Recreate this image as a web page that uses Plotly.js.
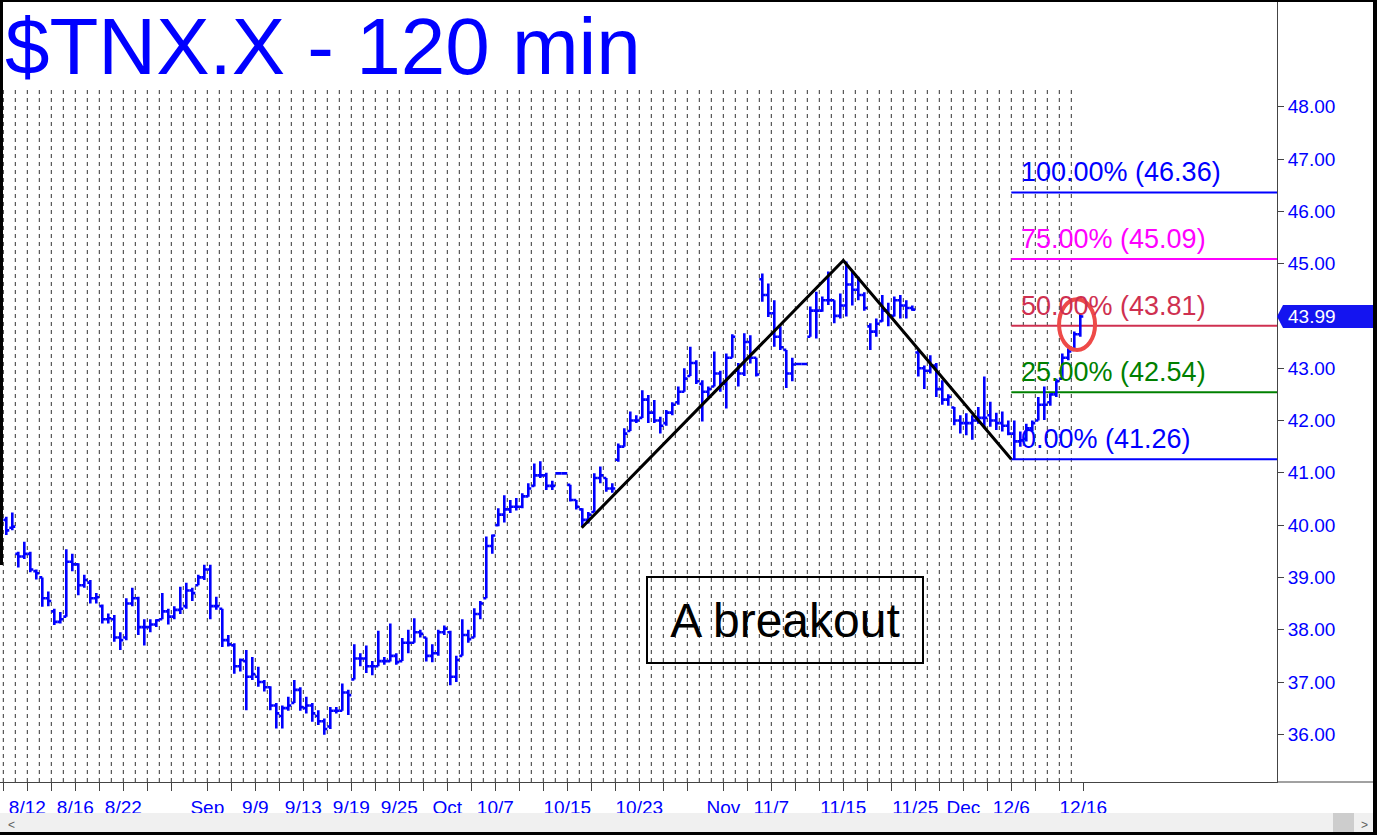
<!DOCTYPE html>
<html><head><meta charset="utf-8">
<script src="https://cdn.plot.ly/plotly-3.0.1.min.js"></script>
<style>html,body{margin:0;padding:0;background:#fff;overflow:hidden}#chart{width:1377px;height:835px}</style>
</head><body><div id="chart"></div>
<script>
// ---- data: 120-min bars, two per trading day, day 0 = 8/8 ----
const opens = [
40.10,39.95, 39.45,39.40, 39.45,39.12, 39.00,38.60, 38.35,38.15,
38.25,39.30, 39.25,38.85, 38.90,38.60, 38.45,38.20, 38.20,37.85,
37.85,38.50, 38.60,38.05, 38.05,38.10, 38.20,38.35, 38.25,38.38,
38.45,38.75, 38.85,39.00, 39.15,38.45, 38.40,37.80, 37.70,37.30,
37.40,37.10, 37.10,37.00, 36.90,36.55, 36.35,36.50, 36.60,36.85,
36.50,36.55, 36.35,36.25, 36.15,36.45, 36.45,36.80, 37.05,37.45,
37.45,37.30, 37.30,37.40, 37.40,37.50, 37.40,37.75, 37.75,37.95,
37.85,37.50, 37.55,37.95, 37.95,37.10, 37.50,37.90, 37.85,38.30,
38.60,39.60, 40.00,40.20, 40.30,40.35, 40.35,40.55, 40.75,40.95,
40.95,40.75, 40.99,40.99, 40.77,40.48, 40.30,40.10, 40.25,40.90,
40.90,40.70, 41.25,41.50, 41.80,42.00, 42.05,42.40, 42.15,42.00,
41.95,42.15, 42.35,42.55, 42.85,43.10, 42.70,42.55, 42.65,42.90,
42.70,43.20, 42.95,42.90, 43.50,43.20, 44.70,44.40, 44.05,43.60,
43.35,42.90, 43.08,43.08, 43.60,44.10, 44.10,44.30, 44.30,44.00,
44.20,44.60, 44.50,44.40, 43.80,43.70, 43.90,44.10, 44.00,44.30,
44.20,44.15, 43.30,43.00, 42.95,43.05, 42.60,42.40, 42.25,42.00,
41.95,41.95, 42.00,42.05, 42.10,42.00, 41.95,41.90, 41.75,41.60,
41.65,41.85, 42.00,42.30, 42.35,42.50, 42.80,43.20, 43.35,43.65];
const highs = [
40.16,40.24, 39.49,39.68, 39.49,39.15, 39.00,38.73, 38.40,38.34,
39.54,39.45, 39.27,39.05, 38.95,38.70, 38.48,38.31, 38.28,37.95,
38.60,38.80, 38.63,38.20, 38.20,38.20, 38.70,38.40, 38.45,38.82,
38.90,38.80, 39.05,39.24, 39.24,38.63, 38.40,37.90, 37.74,37.45,
37.61,37.48, 37.29,37.04, 36.92,36.60, 36.55,36.72, 37.04,36.90,
36.72,36.60, 36.46,36.30, 36.52,36.52, 36.97,36.85, 37.72,37.55,
37.70,37.40, 37.98,37.48, 38.12,37.55, 37.84,38.00, 38.22,38.00,
37.85,37.72, 38.00,38.08, 37.98,37.50, 38.20,38.00, 38.41,38.55,
39.78,39.82, 40.32,40.57, 40.48,40.52, 40.61,40.80, 41.18,41.22,
41.00,40.85, 41.00,41.00, 40.77,40.48, 40.32,40.25, 40.99,41.12,
40.90,40.80, 41.56,41.85, 42.17,42.10, 42.58,42.49, 42.39,42.07,
42.20,42.35, 42.65,43.00, 43.41,43.15, 42.77,42.65, 43.32,42.95,
43.28,43.65, 43.10,43.67, 43.63,43.20, 44.81,44.62, 44.30,43.80,
43.35,43.20, 43.09,43.09, 44.18,44.46, 44.37,44.85, 44.30,44.43,
45.04,44.85, 44.75,44.45, 43.86,43.95, 44.40,44.25, 44.37,44.40,
44.30,44.20, 43.35,43.05, 43.25,43.10, 42.77,42.50, 42.26,42.10,
42.14,42.10, 42.26,42.84, 42.36,42.15, 42.17,42.00, 42.00,41.79,
41.94,42.00, 42.45,42.65, 42.52,42.80, 43.28,43.38, 43.70,44.05];
const lows = [
39.81,39.90, 39.19,39.35, 39.10,38.96, 38.44,38.45, 38.09,38.12,
38.25,39.12, 38.66,38.80, 38.50,38.50, 38.12,38.12, 37.77,37.61,
37.80,38.45, 37.90,37.70, 37.95,38.05, 38.20,38.10, 38.20,38.30,
38.40,38.55, 38.85,38.95, 38.20,38.38, 37.67,37.68, 37.16,37.20,
36.46,37.04, 36.91,36.82, 36.46,36.11, 36.11,36.45, 36.60,36.45,
36.40,36.24, 36.18,35.99, 36.10,36.40, 36.45,36.37, 37.05,37.30,
37.17,37.13, 37.30,37.33, 37.39,37.33, 37.40,37.55, 37.75,37.85,
37.39,37.38, 37.50,37.90, 36.94,37.00, 37.50,37.75, 37.85,38.20,
38.60,39.45, 39.98,40.05, 40.23,40.28, 40.32,40.54, 40.74,40.90,
40.67,40.67, 40.98,40.98, 40.45,40.30, 39.97,40.03, 40.25,40.80,
40.64,40.62, 41.21,41.50, 41.80,41.95, 42.05,41.95, 41.95,41.75,
41.90,42.10, 42.30,42.55, 42.85,42.70, 41.98,42.45, 42.65,42.55,
42.23,43.20, 42.65,42.85, 43.09,42.84, 44.27,43.98, 43.41,43.35,
42.62,42.75, 43.07,43.07, 43.60,43.57, 44.08,44.21, 43.86,43.95,
43.99,44.20, 44.30,44.10, 43.35,43.60, 43.89,43.80, 43.99,43.95,
43.95,44.10, 42.84,42.60, 42.90,42.45, 42.30,42.28, 41.91,41.75,
41.72,41.63, 41.94,41.85, 41.88,41.82, 41.79,41.72, 41.26,41.50,
41.60,41.80, 42.00,42.01, 42.28,42.45, 42.80,43.15, 43.35,43.60];
const closes = [
39.90,39.97, 39.40,39.45, 39.15,39.08, 38.60,38.55, 38.15,38.20,
39.30,39.25, 38.85,38.95, 38.60,38.62, 38.20,38.22, 37.85,37.80,
38.50,38.60, 38.05,38.05, 38.10,38.18, 38.35,38.25, 38.38,38.40,
38.75,38.70, 39.00,39.15, 38.45,38.45, 37.80,37.72, 37.30,37.42,
37.10,37.15, 37.00,36.90, 36.55,36.40, 36.50,36.55, 36.85,36.52,
36.55,36.40, 36.25,36.10, 36.45,36.45, 36.80,36.75, 37.45,37.45,
37.30,37.30, 37.40,37.40, 37.50,37.38, 37.75,37.75, 37.95,37.92,
37.50,37.55, 37.95,38.02, 37.10,37.42, 37.90,37.82, 38.30,38.50,
39.60,39.80, 40.20,40.30, 40.35,40.35, 40.55,40.70, 40.95,40.95,
40.75,40.75, 40.99,40.99, 40.48,40.35, 40.10,40.20, 40.90,40.95,
40.70,40.70, 41.50,41.75, 42.00,42.00, 42.40,42.15, 42.00,41.90,
42.15,42.30, 42.55,42.80, 43.10,42.75, 42.55,42.60, 42.90,42.70,
43.20,43.60, 42.90,43.50, 43.20,42.88, 44.40,44.05, 43.60,43.40,
42.90,43.07, 43.08,43.08, 44.10,44.10, 44.30,44.30, 44.00,44.20,
44.60,44.50, 44.40,44.15, 43.70,43.85, 44.10,44.00, 44.30,44.20,
44.15,44.12, 43.00,42.95, 43.05,42.60, 42.40,42.45, 42.00,41.95,
41.95,42.00, 42.05,42.05, 42.00,41.95, 41.90,41.75, 41.60,41.62,
41.85,41.95, 42.30,42.30, 42.50,42.75, 43.20,43.32, 43.65,43.99];
const barsPerDay = 2;

// x-axis date labels (trading-day index)
const tickDays   = [2,6,10,17,21,25,29,33,37,41,47,53,60,64,70,76,80,84,90];
const tickLabels = ['8/12','8/16','8/22','Sep','9/9','9/13','9/19','9/25','Oct','10/7','10/15','10/23','Nov','11/7','11/15','11/25','Dec','12/6','12/16'];
const monthStartDays = [0,17,37,60,80,91];

// y-axis ticks
const yTickVals = [36,37,38,39,40,41,42,43,44,45,46,47,48];

// Fibonacci targets
const fibPct    = ['100.00%','75.00%','50.00%','25.00%','0.00%'];
const fibVals   = [46.36,45.09,43.81,42.54,41.26];
const fibColors = ['#0000FF','#FF00FF','#CF3050','#008000','#0000FF'];
const fibStartDay = 84;

// drawn swing lines A-B-C
const trendDays = [48.2,70.0,84.0];
const trendVals = [39.95,45.06,41.26];

const titleText = '$TNX.X - 120 min';
const noteText = 'A breakout';

// ---- geometry ----
const FONT = 'Liberation Sans, Arial, Helvetica, sans-serif';
const W = 1377, H = 835, ML = 0, MR = 100, MT = 2, MB = 53;
const PW = W - ML - MR, PH = H - MT - MB;       // 1277 x 780
const PX_PER_DAY = 12, DAY0_PX = 3.3;
const xRange = [(0 - DAY0_PX) / PX_PER_DAY, (PW - DAY0_PX) / PX_PER_DAY];
const yRange = [35.088, 50.002];
const px2paperX = px => px / PW;
const py2paperY = py => (MT + PH - py) / PH;
const v2paperY = v => (v - yRange[0]) / (yRange[1] - yRange[0]);

const xs = opens.map((_, i) => Math.floor(i / barsPerDay) + ((i % barsPerDay) + 0.5) / barsPerDay);
const nDays = Math.ceil(opens.length / barsPerDay);
const lastPrice = closes[closes.length - 1];

const traces = [
  {type:'ohlc', x:xs, open:opens, high:highs, low:lows, close:closes,
   increasing:{line:{color:'#0000FF', width:2.6}}, decreasing:{line:{color:'#0000FF', width:2.6}},
   tickwidth:0.5, hoverinfo:'skip', showlegend:false},
  {type:'scatter', mode:'lines', x:trendDays, y:trendVals, line:{color:'#000000', width:3},
   hoverinfo:'skip', showlegend:false}
];

const shapes = [];
// dashed day gridlines
for (let d = 0; d < nDays; d++) {
  shapes.push({type:'line', layer:'below', xref:'x', yref:'paper', x0:d, x1:d, y0:0, y1:py2paperY(88),
               line:{color:'#333333', width:1, dash:'4px,4px'}});
}
// fib lines
fibVals.forEach((v, i) => shapes.push({type:'line', layer:'below', xref:'x', yref:'y',
  x0:fibStartDay, x1:xRange[1], y0:v, y1:v, line:{color:fibColors[i], width:2}}));
// red ellipse
shapes.push({type:'circle', xref:'x', yref:'y', x0:87.98, x1:90.98, y0:43.35, y1:44.32,
             line:{color:'#EE4A48', width:4}});
// last price tag
const tp = v2paperY(lastPrice), th = 11.5 / PH;
shapes.push({type:'path', xref:'paper', yref:'paper', fillcolor:'#1414F0', line:{width:0},
  path:`M 1 ${tp} L ${px2paperX(1283)} ${tp+th} L ${px2paperX(1373)} ${tp+th} L ${px2paperX(1373)} ${tp-th} L ${px2paperX(1283)} ${tp-th} Z`});
// bottom axis line continuing under the price scale
shapes.push({type:'line', xref:'paper', yref:'paper', x0:1, x1:px2paperX(1373), y0:0, y1:0, line:{color:'#444', width:1}});
// scrollbar
shapes.push({type:'rect', xref:'paper', yref:'paper', x0:px2paperX(0), x1:px2paperX(1373), y0:py2paperY(813), y1:py2paperY(832), fillcolor:'#F0F0F0', line:{width:0}});
shapes.push({type:'rect', xref:'paper', yref:'paper', x0:px2paperX(1333), x1:px2paperX(1354), y0:py2paperY(813), y1:py2paperY(832), fillcolor:'#CDCDCD', line:{width:0}});
// window border
const blk = {fillcolor:'#000', line:{width:0}, type:'rect', xref:'paper', yref:'paper'};
shapes.push(Object.assign({}, blk, {x0:px2paperX(0), x1:px2paperX(W), y0:py2paperY(0), y1:py2paperY(2)}));
shapes.push(Object.assign({}, blk, {x0:px2paperX(1373), x1:px2paperX(W), y0:py2paperY(0), y1:py2paperY(H)}));
shapes.push(Object.assign({}, blk, {x0:px2paperX(0), x1:px2paperX(W), y0:py2paperY(832), y1:py2paperY(H)}));
shapes.push(Object.assign({}, blk, {x0:px2paperX(0), x1:px2paperX(3), y0:py2paperY(0), y1:py2paperY(565)}));

const annotations = [];
fibVals.forEach((v, i) => annotations.push({xref:'x', yref:'y', x:fibStartDay + 0.6, y:v,
  xanchor:'left', yanchor:'middle', yshift:20, showarrow:false,
  text:`${fibPct[i]} (${v.toFixed(2)})`, font:{family:FONT, size:27, color:fibColors[i]}}));
annotations.push({xref:'x', yref:'y', x:65.1, y:38.18, showarrow:false, text:noteText,
  font:{family:FONT, size:48, color:'#000'}, bordercolor:'#000', borderwidth:2, borderpad:0,
  width:274, height:84, xanchor:'center', yanchor:'middle'});
annotations.push({xref:'paper', yref:'paper', x:px2paperX(1286), y:tp, xanchor:'left', yanchor:'middle',
  showarrow:false, text:lastPrice.toFixed(2), font:{family:FONT, size:19, color:'#fff'}});
annotations.push({xref:'paper', yref:'paper', x:px2paperX(11), y:py2paperY(825), xanchor:'center', yanchor:'middle',
  showarrow:false, text:'&lt;', font:{family:FONT, size:12, color:'#606060'}});
annotations.push({xref:'paper', yref:'paper', x:px2paperX(1364), y:py2paperY(825), xanchor:'center', yanchor:'middle',
  showarrow:false, text:'&gt;', font:{family:FONT, size:12, color:'#606060'}});

// minor x ticks every two days inside each month
const minorDays = [];
for (let m = 0; m < monthStartDays.length - 1; m++) {
  for (let t = monthStartDays[m]; t < monthStartDays[m+1]; t += 2) {
    if (monthStartDays[m+1] - t >= 2 || m === monthStartDays.length - 2) minorDays.push(t);
  }
}
const allTickVals = [], allTickText = [];
const seen = new Set(tickDays);
tickDays.forEach((d, i) => { allTickVals.push(d); allTickText.push(tickLabels[i]); });
minorDays.forEach(d => { if (!seen.has(d)) { allTickVals.push(d); allTickText.push(''); } });

const layout = {
  width:W, height:H, margin:{l:ML, r:MR, t:MT, b:MB, pad:0},
  paper_bgcolor:'#fff', plot_bgcolor:'#fff', showlegend:false, hovermode:false,
  font:{family:FONT, color:'#0000FF'},
  title:{text:titleText, font:{family:FONT, size:80, color:'#0000FF'},
         xref:'container', x:5/W, xanchor:'left', yref:'container', y:1 - 18/H, yanchor:'top'},
  xaxis:{range:xRange, rangeslider:{visible:false}, showgrid:false, zeroline:false, showline:true, linecolor:'#444', linewidth:1,
         tickmode:'array', tickvals:allTickVals, ticktext:allTickText, ticks:'outside', ticklen:8,
         tickcolor:'#444', tickwidth:1, tickfont:{family:FONT, size:19, color:'#0000FF'}, fixedrange:true},
  yaxis:{range:yRange, side:'right', showgrid:false, zeroline:false, showline:true, linecolor:'#444', linewidth:1,
         tickmode:'array', tickvals:yTickVals, ticktext:yTickVals.map(v => v.toFixed(2)), ticks:'outside', ticklen:6,
         tickcolor:'#444', tickwidth:1, tickfont:{family:FONT, size:19, color:'#0000FF'}, fixedrange:true},
  shapes:shapes, annotations:annotations
};
Plotly.newPlot('chart', traces, layout, {staticPlot:true, displayModeBar:false});
</script></body></html>
